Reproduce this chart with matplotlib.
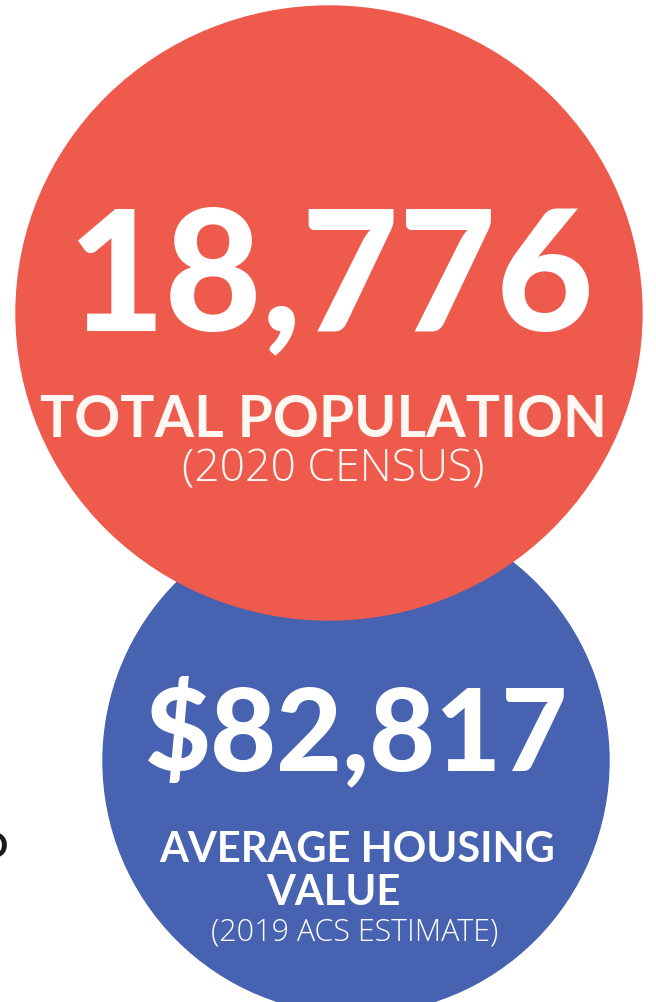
import matplotlib
matplotlib.use("Agg")
import matplotlib.pyplot as plt
from matplotlib.patches import Ellipse, Circle

# Data
values = ["18,776", "$82,817"]
labels = ["TOTAL POPULATION", "AVERAGE HOUSING\nVALUE"]
sublabels = ["(2020 CENSUS)", "(2019 ACS ESTIMATE)"]
colors = ["#EE5A4B", "#4662B1"]

W, H = 656, 1003
fig = plt.figure(figsize=(W / 100, H / 100), dpi=100)
ax = fig.add_axes([0, 0, 1, 1])
ax.set_xlim(0, W)
ax.set_ylim(H, 0)
ax.axis("off")

# blue circle (behind)
ax.add_patch(Circle((356, 762), 253, color=colors[1], zorder=1))
# red circle (front)
ax.add_patch(Ellipse((329, 314), 626, 614, color=colors[0], zorder=2))

fam = ["Lato", "DejaVu Sans"]
lfam = ["Open Sans", "Lato", "DejaVu Sans"]
# red texts
ax.text(330, 330, values[0], ha="center", va="baseline", color="white",
        fontsize=121, fontweight="black", family=fam, zorder=3)
ax.text(324, 437, labels[0], ha="center", va="baseline", color="#FFF8F2",
        fontsize=41, fontweight="bold", family=fam, zorder=3)
ax.text(333, 481, sublabels[0], ha="center", va="baseline", color="#FFF8F2",
        fontsize=32, fontweight=300, family=lfam, zorder=3)

# blue texts
ax.text(357, 770, values[1], ha="center", va="baseline", color="white",
        fontsize=82, fontweight="black", family=fam, zorder=3)
ax.text(357, 862, "AVERAGE HOUSING", ha="center", va="baseline", color="white",
        fontsize=30, fontweight="bold", family=fam, zorder=3)
ax.text(333, 905, "VALUE", ha="center", va="baseline", color="white",
        fontsize=30, fontweight="bold", family=fam, zorder=3)
ax.text(355, 941, sublabels[1], ha="center", va="baseline", color="white",
        fontsize=22, fontweight=300, family=lfam, zorder=3)

# stray fragment at left edge
ax.text(8, 858, "O", ha="right", va="baseline", color="#1a1a1a",
        fontsize=26, fontweight="bold", family=fam, zorder=3)

fig.savefig("out.png", dpi=100)
